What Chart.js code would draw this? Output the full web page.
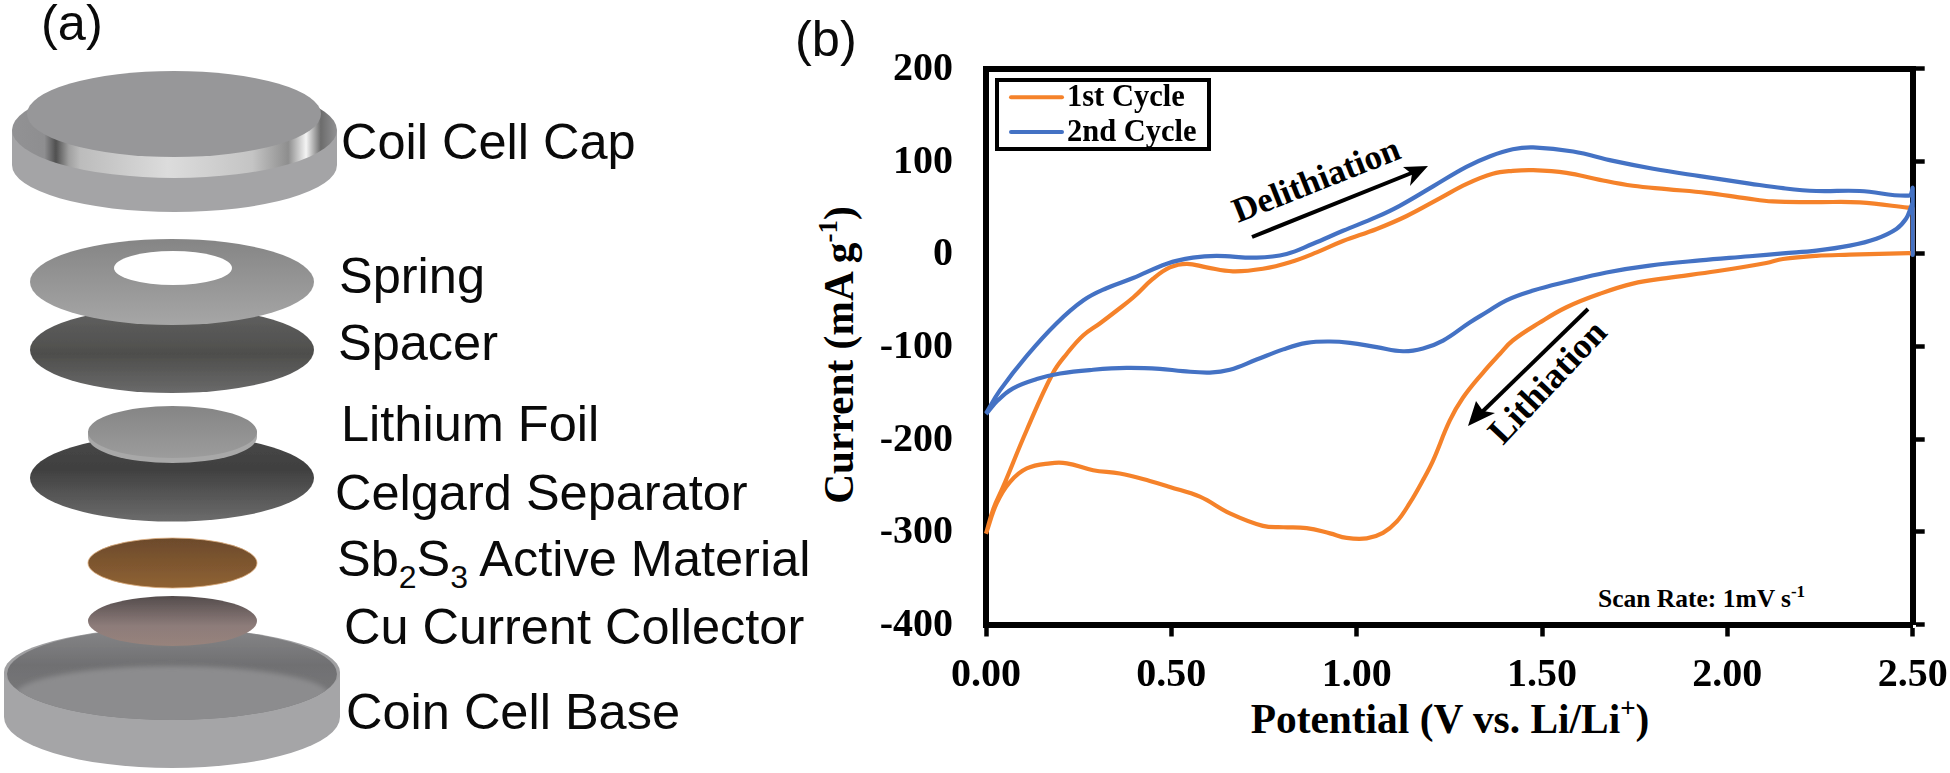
<!DOCTYPE html>
<html>
<head>
<meta charset="utf-8">
<title>Coin cell and cyclic voltammetry</title>
<script src="https://cdn.jsdelivr.net/npm/chart.js@4/dist/chart.umd.min.js"></script>
<style>
  html, body { margin: 0; padding: 0; background: #fff; width: 1950px; height: 773px; overflow: hidden; }
  #schematic, #myChart { position: absolute; left: 0; top: 0; }
  #schematic text.sans { font-family: "Liberation Sans", Arial, sans-serif; font-size: 50.5px; fill: #0a0a0a; }
  #schematic text.serif { font-family: "Liberation Serif", "Times New Roman", serif; font-weight: bold; fill: #000; }
</style>
</head>
<body>
<svg id="schematic" width="1950" height="773" viewBox="0 0 1950 773">
  <defs>
    <linearGradient id="chamfer" x1="0" x2="1" y1="0" y2="0">
      <stop offset="0" stop-color="#929294"/>
      <stop offset="0.10" stop-color="#8e8e90"/>
      <stop offset="0.135" stop-color="#505050"/>
      <stop offset="0.175" stop-color="#a0a0a0"/>
      <stop offset="0.21" stop-color="#bcbcbc"/>
      <stop offset="0.48" stop-color="#dcdcdc"/>
      <stop offset="0.74" stop-color="#c4c4c4"/>
      <stop offset="0.85" stop-color="#8e8e8e"/>
      <stop offset="0.905" stop-color="#f4f4f4"/>
      <stop offset="0.95" stop-color="#6c6c6c"/>
      <stop offset="1" stop-color="#929294"/>
    </linearGradient>
    <linearGradient id="spring" x1="0" x2="0" y1="0" y2="1">
      <stop offset="0" stop-color="#858585"/>
      <stop offset="1" stop-color="#a6a6a6"/>
    </linearGradient>
    <linearGradient id="spacer" x1="0" x2="0" y1="0" y2="1">
      <stop offset="0" stop-color="#626262"/>
      <stop offset="0.55" stop-color="#4e4e4c"/>
      <stop offset="1" stop-color="#6a6a6a"/>
    </linearGradient>
    <linearGradient id="celgard" x1="0" x2="0" y1="0" y2="1">
      <stop offset="0" stop-color="#484848"/>
      <stop offset="0.4" stop-color="#404040"/>
      <stop offset="1" stop-color="#6c6c6c"/>
    </linearGradient>
    <linearGradient id="foil" x1="0" x2="0" y1="0" y2="1">
      <stop offset="0" stop-color="#858585"/>
      <stop offset="1" stop-color="#9c9c9c"/>
    </linearGradient>
    <linearGradient id="active" x1="0" x2="0" y1="0" y2="1">
      <stop offset="0" stop-color="#6c4a2c"/>
      <stop offset="1" stop-color="#8f6232"/>
    </linearGradient>
    <linearGradient id="copper" x1="0" x2="0" y1="0" y2="1">
      <stop offset="0" stop-color="#544c4c"/>
      <stop offset="0.6" stop-color="#8d7c7a"/>
      <stop offset="1" stop-color="#97837b"/>
    </linearGradient>
    <linearGradient id="baseWall" x1="0" x2="0" y1="0" y2="1">
      <stop offset="0" stop-color="#868688"/>
      <stop offset="0.4" stop-color="#707072"/>
      <stop offset="1" stop-color="#7c7c7e"/>
    </linearGradient>
    <filter id="soft"><feGaussianBlur stdDeviation="0.7"/></filter>
    <filter id="softer"><feGaussianBlur stdDeviation="2.5"/></filter>
    <clipPath id="baseInner"><ellipse cx="172" cy="674" rx="165" ry="46"/></clipPath>
  </defs>

  <g filter="url(#soft)">
    <!-- cap -->
    <path d="M12 130 V165 A162.5 47 0 0 0 337 165 V130 Z" fill="#a4a4a6"/>
    <ellipse cx="174.5" cy="130" rx="162.5" ry="48" fill="url(#chamfer)"/>
    <ellipse cx="174" cy="114" rx="147" ry="43" fill="#979799"/>
    <!-- spacer, spring -->
    <ellipse cx="172" cy="350" rx="142" ry="43" fill="url(#spacer)"/>
    <ellipse cx="172" cy="282" rx="142" ry="43" fill="url(#spring)"/>
    <ellipse cx="173" cy="268" rx="59" ry="17" fill="#fff"/>
    <!-- separator, lithium -->
    <ellipse cx="172" cy="478" rx="142" ry="43.5" fill="url(#celgard)"/>
    <path d="M88 431 V437 A84.5 26 0 0 0 257 437 V431 Z" fill="#a8a8a8"/>
    <ellipse cx="172.5" cy="432" rx="84.5" ry="26" fill="url(#foil)"/>
    <!-- base -->
    <path d="M4 672 V717 A168 51 0 0 0 340 717 V672 Z" fill="#a5a5a7"/>
    <ellipse cx="172" cy="672" rx="168" ry="44" fill="#a0a0a2"/>
    <ellipse cx="172" cy="674" rx="165" ry="46" fill="url(#baseWall)"/>
    <g clip-path="url(#baseInner)">
      <ellipse cx="172" cy="696" rx="158" ry="30" fill="#8c8c8e" filter="url(#softer)"/>
    </g>
    <!-- active material, collector -->
    <ellipse cx="172.5" cy="563" rx="84.5" ry="25" fill="url(#active)" stroke="#d9a877" stroke-width="0.8"/>
    <ellipse cx="172.5" cy="621" rx="84.5" ry="25" fill="url(#copper)"/>
  </g>

  <text class="sans" x="41" y="40">(a)</text>
  <text class="sans" x="795" y="56">(b)</text>
  <text class="sans" x="341" y="159">Coil Cell Cap</text>
  <text class="sans" x="339" y="293">Spring</text>
  <text class="sans" x="338" y="360">Spacer</text>
  <text class="sans" x="341" y="441">Lithium Foil</text>
  <text class="sans" x="335" y="510">Celgard Separator</text>
  <text class="sans" x="337" y="576">Sb<tspan font-size="32" dy="12">2</tspan><tspan dy="-12">S</tspan><tspan font-size="32" dy="12">3</tspan><tspan dy="-12"> Active Material</tspan></text>
  <text class="sans" x="344" y="644">Cu Current Collector</text>
  <text class="sans" x="346" y="729">Coin Cell Base</text>

  <text class="serif" font-size="41.4" text-anchor="middle" x="1450" y="733">Potential (V vs. Li/Li<tspan font-size="27" dy="-16">+</tspan><tspan dy="16">)</tspan></text>
  <text class="serif" font-size="41.4" text-anchor="middle" transform="translate(853 355) rotate(-90)">Current (mA g<tspan font-size="27" dy="-16">-1</tspan><tspan dy="16">)</tspan></text>
  <text class="serif" font-size="25.5" x="1598" y="607">Scan Rate: 1mV s<tspan font-size="17" dy="-10">-1</tspan></text>
  <text class="serif" font-size="35" transform="translate(1238 223) rotate(-21.6)">Delithiation</text>
  <text class="serif" font-size="36" transform="translate(1503 446) rotate(-46.7)">Lithiation</text>

  <!-- direction arrows -->
  <line x1="1252" y1="237" x2="1414" y2="172" stroke="#000" stroke-width="4"/>
  <path d="M1428 166 L1410 186 L1412 174 L1403 167 Z" fill="#000"/>
  <line x1="1588" y1="309" x2="1480" y2="414" stroke="#000" stroke-width="4"/>
  <path d="M1468 426 L1476 401 L1483 411 L1495 413 Z" fill="#000"/>
</svg>
<canvas id="myChart" width="1950" height="773"></canvas>

<script>
const cycle1Voltage = [0, 0.02, 0.046, 0.11, 0.18, 0.218, 0.262, 0.307, 0.353, 0.397, 0.45, 0.496, 0.542, 0.595, 0.666, 0.747, 0.82, 0.892, 0.963, 1.054, 1.135, 1.224, 1.297, 1.367, 1.421, 1.476, 1.566, 1.656, 1.745, 1.836, 1.944, 2.052, 2.122, 2.24, 2.357, 2.486, 2.5, 2.5, 2.49, 2.33, 2.24, 2.15, 2.105, 1.97, 1.836, 1.745, 1.656, 1.566, 1.494, 1.421, 1.386, 1.341, 1.287, 1.251, 1.206, 1.179, 1.143, 1.108, 1.071, 1.027, 0.973, 0.928, 0.865, 0.802, 0.747, 0.658, 0.577, 0.496, 0.442, 0.361, 0.289, 0.218, 0.173, 0.11, 0.065, 0.029, 0];
const cycle1Current = [-302, -275, -251.5, -190, -129, -107.7, -88, -75, -61, -47, -27, -14.5, -10.6, -14.5, -18.7, -16, -9, 1.7, 14, 27, 41, 60, 75.6, 86.5, 89.7, 90.5, 87.6, 80, 73.6, 70, 66, 60, 56.7, 56, 55.6, 50, 49, 1, 1, -0.8, -2, -5.4, -9.7, -18.7, -26, -32, -43, -57.5, -74, -93.4, -108, -128, -155, -180, -223, -244, -269, -289, -301, -307, -306.5, -301.6, -296, -295, -293.5, -280, -262, -251.5, -245, -237, -233.5, -226, -226, -231.5, -246, -269, -302];

const cycle2Voltage = [0, 0.038, 0.11, 0.19, 0.263, 0.325, 0.397, 0.488, 0.558, 0.622, 0.73, 0.811, 0.882, 0.963, 1.054, 1.116, 1.206, 1.296, 1.36, 1.421, 1.476, 1.584, 1.692, 1.8, 1.926, 2.06, 2.15, 2.24, 2.357, 2.49, 2.5, 2.5, 2.5, 2.495, 2.482, 2.456, 2.402, 2.33, 2.24, 2.15, 2.06, 1.926, 1.79, 1.674, 1.566, 1.476, 1.404, 1.35, 1.305, 1.233, 1.179, 1.125, 1.054, 0.982, 0.928, 0.865, 0.802, 0.73, 0.658, 0.604, 0.531, 0.469, 0.379, 0.289, 0.2, 0.137, 0.073, 0.032, 0];
const cycle2Current = [-172, -147, -110, -75, -50, -37, -26, -10.5, -4, -2, -4, 0, 11, 25, 40, 52, 73, 94, 105.5, 113, 115, 110.6, 100.5, 92, 84, 76, 71, 68, 68, 63, 71, -1, 55, 50, 38, 27, 16.5, 9, 3.6, 0.7, -2.5, -7, -12.6, -20, -30, -39.5, -50, -63, -74, -93.5, -102, -105, -100.6, -96, -94.5, -96, -103, -114, -125, -128, -126.5, -124, -123, -125, -129, -135, -145, -158, -173];

const seriesNames = ['1st Cycle', '2nd Cycle'];
const seriesColors = ['#f5822a', '#4472c4'];

function toPoints(xs, ys) {
  return xs.map((x, i) => ({ x: x, y: ys[i] }));
}

const tickFont = { family: '"Liberation Serif", "Times New Roman", serif', size: 40, weight: 'bold' };

// legend box sits inside the plot, so it is painted by hand
const legendBox = {
  id: 'legendBox',
  afterDatasetsDraw(chart) {
    const ctx = chart.ctx;
    ctx.save();
    ctx.strokeStyle = '#000';
    ctx.lineWidth = 4;
    ctx.strokeRect(997, 80, 212, 69);
    ctx.font = 'bold 30.5px "Liberation Serif", "Times New Roman", serif';
    ctx.textBaseline = 'alphabetic';
    chart.data.datasets.forEach((ds, i) => {
      const y = 97.3 + i * 34.7;
      ctx.strokeStyle = ds.borderColor;
      ctx.lineWidth = 4;
      ctx.lineCap = 'round';
      ctx.beginPath();
      ctx.moveTo(1011, y);
      ctx.lineTo(1062, y);
      ctx.stroke();
      ctx.fillStyle = '#000';
      ctx.fillText(ds.label, 1067, y + 9);
    });
    ctx.restore();
  }
};

const data = {
  datasets: [{
    label: seriesNames[0],
    data: toPoints(cycle1Voltage, cycle1Current),
    borderColor: seriesColors[0],
    backgroundColor: seriesColors[0],
    borderWidth: 4.2,
    pointRadius: 0,
    showLine: true,
    tension: 0.4,
    clip: false,
    order: 2
  }, {
    label: seriesNames[1],
    data: toPoints(cycle2Voltage, cycle2Current),
    borderColor: seriesColors[1],
    backgroundColor: seriesColors[1],
    borderWidth: 4.2,
    pointRadius: 0,
    showLine: true,
    tension: 0.4,
    clip: false,
    order: 1
  }]
};

const config = {
  type: 'scatter',
  data: data,
  plugins: [legendBox],
  options: {
    responsive: false,
    animation: false,
    devicePixelRatio: 1,
    layout: { padding: { top: 68.7, left: 0, right: 0, bottom: 0 } },
    scales: {
      x: {
        type: 'linear',
        position: 'bottom',
        min: 0,
        max: 2.5,
        // the 2.50 label may hang past the plot without shrinking it
        afterFit(scale) {
          scale.height = 773 - 624.5;
          scale.paddingLeft = 0;
          scale.paddingRight = 0;
        },
        border: { display: true, color: '#000', width: 6 },
        grid: { drawOnChartArea: false, drawTicks: true, tickLength: 12, tickWidth: 4.5, tickColor: '#000' },
        ticks: {
          stepSize: 0.5,
          autoSkip: false,
          maxRotation: 0,
          padding: 15,
          color: '#000',
          font: tickFont,
          callback: v => v.toFixed(2)
        }
      },
      xTop: {
        type: 'linear',
        position: 'top',
        min: 0,
        max: 2.5,
        afterFit(scale) { scale.height = 0; },
        border: { display: true, color: '#000', width: 6 },
        grid: { display: false },
        ticks: { display: false }
      },
      y: {
        position: 'left',
        min: -400,
        max: 200,
        afterFit(scale) { scale.width = 986; },
        border: { display: true, color: '#000', width: 6 },
        grid: { display: false },
        ticks: {
          stepSize: 100,
          padding: 25,
          labelOffset: 1,
          color: '#000',
          font: tickFont,
          callback: v => String(v)
        }
      },
      yRight: {
        position: 'right',
        min: -400,
        max: 200,
        afterFit(scale) { scale.width = 1950 - 1912.7; },
        border: { display: true, color: '#000', width: 6 },
        grid: { drawOnChartArea: false, drawTicks: true, tickLength: 12, tickWidth: 4.5, tickColor: '#000' },
        ticks: { stepSize: 100, display: false }
      }
    },
    plugins: {
      legend: { display: false },
      tooltip: { enabled: false }
    }
  }
};

const myChart = new Chart(document.getElementById('myChart'), config);
</script>
</body>
</html>
